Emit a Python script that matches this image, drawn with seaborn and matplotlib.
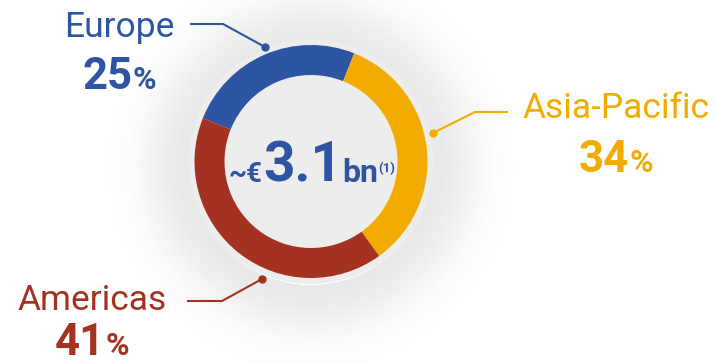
import numpy as np
import matplotlib
matplotlib.use("Agg")
import matplotlib.pyplot as plt
import seaborn as sns

# Revenue split by region
regions = ["Europe", "Asia-Pacific", "Americas"]
shares = [25, 34, 41]
region_colors = ["#2E55A3", "#F2AB00", "#A33221"]
total_parts = ["~€", "3.1", "bn", "(1)"]

sns.set_theme(style="white")
plt.rcParams["font.family"] = ["Roboto", "DejaVu Sans"]
palette = sns.color_palette(region_colors)

W, H = 718, 363
DPI = 100
fig = plt.figure(figsize=(W / DPI, H / DPI), dpi=DPI)
ax = fig.add_axes([0, 0, 1, 1])


def Y(y):
    # pixel rows run downward; axis runs upward
    return H - y


cx, cy = 311, 161.5
r_out, ring_w = 116.5, 30
r_rim = r_out + 6
r_in = r_out - ring_w

# soft drop glow around the donut and faint inset shade in the hole
xs = np.arange(W) + 0.5
ys = np.arange(H) + 0.5
gx, gy = np.meshgrid(xs, ys)
rr = np.hypot(gx - cx, gy - (cy + 4))
alpha = np.where(rr > r_rim - 3, 0.12 * np.exp(-((rr - r_rim) / 45.0) ** 2), 0.0)
rh = np.hypot(gx - cx, gy - cy)
alpha += np.where(rh < r_in, 0.05 * np.exp(-((r_in - rh) / 14.0) ** 2), 0.0)
img = np.zeros((H, W, 4))
img[..., :3] = 0.3
img[..., 3] = np.clip(alpha, 0, 1)
ax.imshow(img, extent=(0, W, 0, H), origin="upper", zorder=0,
          interpolation="bilinear")

# light rim behind the ring
ax.add_patch(plt.Circle((cx, Y(cy)), r_rim, color="#EDEDED", zorder=1, lw=0))

wedges, _ = ax.pie(
    shares,
    colors=palette,
    startangle=158.2,
    counterclock=False,
    radius=r_out,
    center=(cx, Y(cy)),
    wedgeprops=dict(width=ring_w, edgecolor="none", linewidth=0, zorder=2),
)

ax.set_xlim(0, W)
ax.set_ylim(0, H)
ax.set_aspect("equal")
ax.axis("off")

fig.canvas.draw()
renderer = fig.canvas.get_renderer()


def rich(x_center, y_base, parts, color):
    """Draw a run of differently sized pieces on one baseline, centred on x."""
    texts = []
    widths = []
    for txt, size, weight, dy in parts:
        t = ax.text(0, 0, txt, fontsize=size, fontweight=weight, color=color,
                    ha="left", va="baseline", zorder=5)
        w = t.get_window_extent(renderer).width
        texts.append((t, dy))
        widths.append(w)
    total = sum(widths)
    x = x_center - total / 2
    for (t, dy), w in zip(texts, widths):
        t.set_position((x, Y(y_base - dy)))
        x += w


# region labels: name, percentage, leader line
label_layout = {
    "Europe": dict(name_xy=(119, 37), pct_xy=(119, 89),
                   line=[(190, 24), (223, 24), (265, 47)]),
    "Asia-Pacific": dict(name_xy=(616, 118), pct_xy=(616, 172),
                         line=[(508, 112), (475, 112), (433, 133)]),
    "Americas": dict(name_xy=(92, 310), pct_xy=(92, 355),
                     line=[(187, 301), (222, 301), (262, 279)]),
}

for name, share, col in zip(regions, shares, palette):
    lay = label_layout[name]
    nx, ny = lay["name_xy"]
    ax.text(nx, Y(ny), name, fontsize=25.5, color=col, ha="center",
            va="baseline", zorder=5)
    px, py = lay["pct_xy"]
    rich(px, py, [(f"{share}", 31.5, "bold", 0), ("%", 23, "bold", 0)], col)
    lx = [p[0] for p in lay["line"]]
    ly = [Y(p[1]) for p in lay["line"]]
    ax.plot(lx, ly, color=col, lw=1.5, zorder=4, solid_capstyle="butt")
    ax.plot(lx[-1], ly[-1], "o", color=col, ms=5, zorder=4)

# total in the middle of the donut
centre_blue = palette[0]
rich(312, 182, [(total_parts[0], 20, "bold", 0),
                (total_parts[1], 39.5, "bold", 0),
                (total_parts[2], 23, "bold", 0),
                (total_parts[3], 9.5, "bold", 10)], centre_blue)

fig.savefig("out.png", dpi=DPI)
